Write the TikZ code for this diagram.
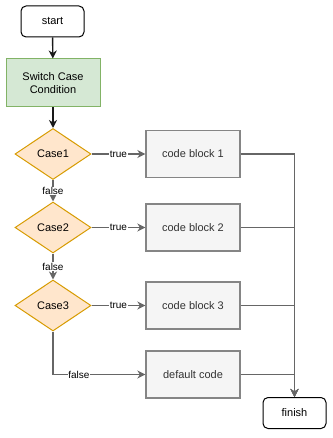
\documentclass[tikz,border=0pt]{standalone}
\usepackage{fontspec}
\setmainfont{Liberation Sans}
\usetikzlibrary{shapes.geometric,arrows.meta}
\definecolor{greenfill}{HTML}{D5E8D4}
\definecolor{greenline}{HTML}{82B366}
\definecolor{orangefill}{HTML}{FFE6CC}
\definecolor{orangeline}{HTML}{D79B00}
\definecolor{greyfill}{HTML}{F5F5F5}
\definecolor{greyline}{HTML}{666666}
\definecolor{greytext}{HTML}{333333}
\begin{document}
\begin{tikzpicture}[x=1pt,y=-1pt,
  font=\fontsize{11}{13}\selectfont,
  terminal/.style={draw=black,fill=white,rounded corners=5pt,line width=1pt,
    minimum width=63pt,minimum height=31pt,inner sep=0pt},
  condition/.style={draw=greenline,fill=greenfill,line width=1pt,
    minimum width=94pt,minimum height=48pt,align=center,inner sep=0pt},
  casebox/.style={diamond,aspect=1.49,draw=orangeline,fill=orangefill,line width=1pt,
    minimum width=76pt,minimum height=51pt,inner sep=0pt},
  codebox/.style={draw=greyline!80,fill=greyfill,line width=1.3pt,text=greytext,
    minimum width=94pt,minimum height=47pt,inner sep=0pt},
  flow/.style={draw=black!90,line width=1.4pt,-{Stealth[length=8pt,width=8pt,inset=2.5pt]}},
  branch/.style={draw=greyline,line width=1.4pt,-{Stealth[length=8pt,width=8pt,inset=2.5pt]}},
  edgelabel/.style={fill=white,inner sep=0.5pt,font=\fontsize{10}{12}\selectfont}]
\useasboundingbox (0,0) rectangle (332,438);

% nodes
\node[terminal] (start) at (52.5,21.5) {start};
\node[condition] (cond) at (53,83) {Switch Case\\Condition};
\node[casebox] (c1) at (53,154) {Case1};
\node[casebox] (c2) at (53,227.5) {Case2};
\node[casebox] (c3) at (53,305.5) {Case3};
\node[codebox] (b1) at (193,154) {code block 1};
\node[codebox] (b2) at (193,227.5) {code block 2};
\node[codebox] (b3) at (193,305.5) {code block 3};
\node[codebox] (bd) at (193,374.5) {default code};
\node[terminal] (fin) at (294.5,413) {finish};

% main flow
\draw[flow] (start) -- (cond);
\draw[flow] (cond) -- (c1);

% case tests
\draw[branch] (c1) -- node[edgelabel]{true} (b1);
\draw[branch] (c2) -- node[edgelabel]{true} (b2);
\draw[branch] (c3) -- node[edgelabel]{true} (b3);
\draw[branch] (c1) -- node[edgelabel]{false} (c2);
\draw[branch] (c2) -- node[edgelabel]{false} (c3);
\draw[branch] (c3.south) |- node[edgelabel,pos=0.64]{false} (bd.west);

% merge into finish
\draw[branch] (b1.east) -| (fin.north);
\draw[branch] (b2.east) -| (fin.north);
\draw[branch] (b3.east) -| (fin.north);
\draw[branch] (bd.east) -| (fin.north);
\end{tikzpicture}
\end{document}
